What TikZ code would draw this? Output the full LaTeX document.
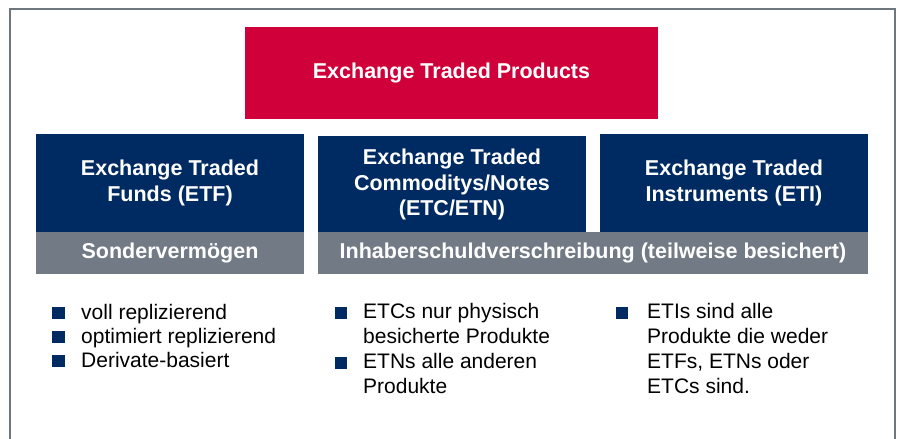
\documentclass[tikz,border=0pt]{standalone}
\usepackage{fontspec}
\setmainfont{Liberation Sans}
\definecolor{dbred}{HTML}{D0003A}
\definecolor{dbnavy}{HTML}{002B62}
\definecolor{dbgray}{HTML}{717A85}
\definecolor{framegray}{HTML}{6E7680}
\begin{document}
\begin{tikzpicture}[x=1pt,y=-1pt,
  box/.style={inner sep=0pt, text=white, align=center,
    font=\fontsize{21.5}{25.5}\selectfont\bfseries},
  redbox/.style={box, fill=dbred, minimum width=413pt, minimum height=92pt},
  navybox/.style={box, fill=dbnavy, minimum width=268pt, minimum height=98pt},
  graybar/.style={box, fill=dbgray, minimum height=42pt},
  bul/.style={fill=dbnavy, inner sep=0pt, minimum size=12.5pt},
  item/.style={anchor=north west, inner sep=0pt, align=left,
    font=\fontsize{21}{25}\selectfont}
]
\useasboundingbox (0,0) rectangle (898,439);
\begin{scope}
\clip (0,0) rectangle (898,439);
\draw[framegray, line width=2pt] (9.5,8.5) rectangle (895,470);
\end{scope}

\node[redbox] (etp) at (451.5,73) {Exchange Traded Products};

\node[navybox] (etf) at (170,183) {Exchange Traded\\Funds (ETF)};
\node[navybox] (etc) at (452,184.5) {Exchange Traded\\Commoditys/Notes\\(ETC/ETN)};
\node[navybox] (eti) at (734,183) {Exchange Traded\\Instruments (ETI)};

\node[graybar, minimum width=268pt] (sv) at (170,253) {Sondervermögen};
\node[graybar, minimum width=550pt] (ihs) at (593,253)
  {Inhaberschuldverschreibung (teilweise besichert)};

% column 1
\node[bul] (b11) at (58.5,313) {};
\node[item] (t11) at (81,304) {voll replizierend};
\node[bul] (b12) at (58.5,337) {};
\node[item] (t12) at (81,328) {optimiert replizierend};
\node[bul] (b13) at (58.5,361) {};
\node[item] (t13) at (81,352) {Derivate-basiert};

% column 2
\node[bul] (b21) at (341,313) {};
\node[item] (t21) at (363,303) {ETCs nur physisch\\besicherte Produkte};
\node[bul] (b22) at (341,363) {};
\node[item] (t22) at (363,353) {ETNs alle anderen\\Produkte};

% column 3
\node[bul] (b31) at (622,313) {};
\node[item] (t31) at (647,303) {ETIs sind alle\\Produkte die weder\\ETFs, ETNs oder\\ETCs sind.};
\end{tikzpicture}
\end{document}
